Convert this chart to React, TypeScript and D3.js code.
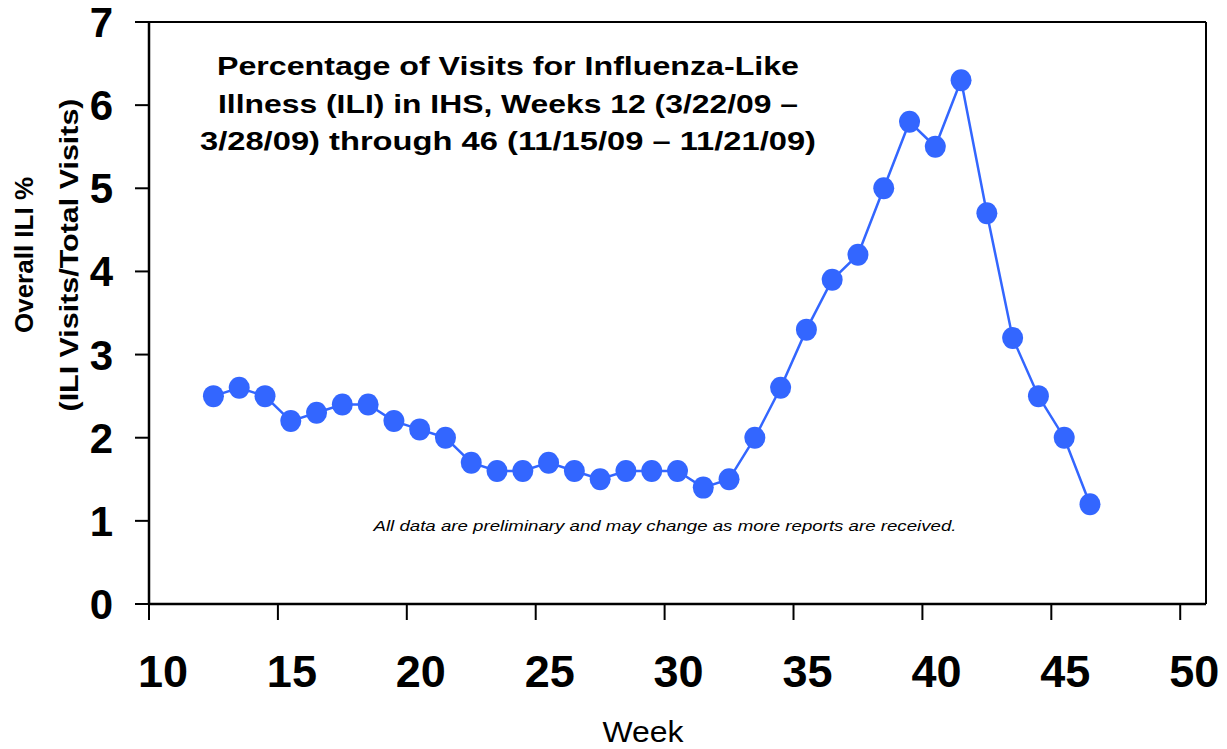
import React from "react";
import * as d3 from "d3";

const weeks = [12,13,14,15,16,17,18,19,20,21,22,23,24,25,26,27,28,29,30,31,32,33,34,35,36,37,38,39,40,41,42,43,44,45,46];
const iliValues = [2.5,2.6,2.5,2.2,2.3,2.4,2.4,2.2,2.1,2.0,1.7,1.6,1.6,1.7,1.6,1.5,1.6,1.6,1.6,1.4,1.5,2.0,2.6,3.3,3.9,4.2,5.0,5.8,5.5,6.3,4.7,3.2,2.5,2.0,1.2];
const xTicks = [10,15,20,25,30,35,40,45,50];
const yTicks = [0,1,2,3,4,5,6,7];
const titleLines = [
  "Percentage of Visits for Influenza-Like",
  "Illness (ILI) in IHS, Weeks 12 (3/22/09 \u2013",
  "3/28/09) through 46 (11/15/09 \u2013 11/21/09)",
];
const titleWidths = [582, 580, 616];
const yLabelLines = ["Overall ILI %", "(ILI Visits/Total Visits)"];
const yLabelWidths = [156, 313];
const footnote = "All data are preliminary and may change as more reports are received.";

const W = 1227, H = 749;
const left = 149, right = 1206, top = 22, bottom = 604;
const FONT = "'Liberation Sans', Arial, sans-serif";

export default function App() {
  const x = d3.scaleLinear().domain([10, 51]).range([left, right]);
  const y = d3.scaleLinear().domain([0, 7]).range([bottom, top]);
  const pts = weeks.map((w, i) => ({ w: w + 0.5, v: iliValues[i] }));
  const line = d3.line<{ w: number; v: number }>().x(d => x(d.w)).y(d => y(d.v));
  const color = "#3366FF";
  return (
    <svg width={W} height={H} style={{ position: "absolute", left: 0, top: 0 }}>
      <rect width={W} height={H} fill="#fff" />
      <line x1={left} x2={right} y1={top} y2={top} stroke="#000" strokeWidth={2} />
      <line x1={right} x2={right} y1={top} y2={bottom} stroke="#000" strokeWidth={2} />
      <line x1={left} x2={right} y1={bottom} y2={bottom} stroke="#000" strokeWidth={2.5} />
      <line x1={left} x2={left} y1={top} y2={bottom} stroke="#000" strokeWidth={2.5} />
      {yTicks.map(t => (
        <g key={"y" + t}>
          <line x1={left - 14} x2={left} y1={y(t)} y2={y(t)} stroke="#000" strokeWidth={2} />
          <text x={113} y={y(t) + 15} textAnchor="end" fontFamily={FONT} fontWeight="bold" fontSize={42}>{t}</text>
        </g>
      ))}
      {xTicks.map(t => (
        <g key={"x" + t}>
          <line x1={x(t)} x2={x(t)} y1={bottom} y2={bottom + 16} stroke="#000" strokeWidth={2} />
          <text x={x(t) + 14} y={687} textAnchor="middle" fontFamily={FONT} fontWeight="bold" fontSize={45}>{t}</text>
        </g>
      ))}
      <text x={643} y={742} textAnchor="middle" fontFamily={FONT} fontSize={29} textLength={81} lengthAdjust="spacingAndGlyphs">Week</text>
      {yLabelLines.map((l, i) => (
        <text key={l} transform={`translate(${33 + i * 45},${255}) rotate(-90)`} textAnchor="middle" fontFamily={FONT} fontWeight="bold" fontSize={26} textLength={yLabelWidths[i]} lengthAdjust="spacingAndGlyphs">{l}</text>
      ))}
      {titleLines.map((l, i) => (
        <text key={l} x={508} y={75 + i * 37.5} textAnchor="middle" fontFamily={FONT} fontWeight="bold" fontSize={26} textLength={titleWidths[i]} lengthAdjust="spacingAndGlyphs">{l}</text>
      ))}
      <text x={665} y={531} textAnchor="middle" fontFamily={FONT} fontStyle="italic" fontSize={15} textLength={583} lengthAdjust="spacingAndGlyphs">{footnote}</text>
      <path d={line(pts) || ""} fill="none" stroke={color} strokeWidth={2.5} />
      {pts.map((p, i) => (
        <ellipse key={i} cx={x(p.w)} cy={y(p.v)} rx={10.5} ry={11} fill={color} />
      ))}
    </svg>
  );
}
